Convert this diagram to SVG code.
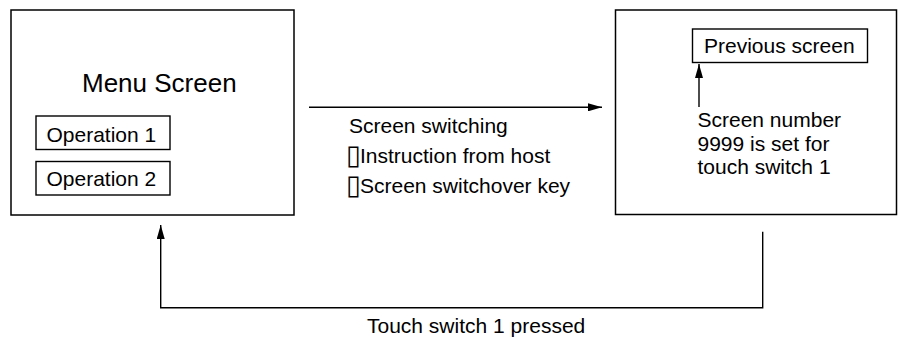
<svg xmlns="http://www.w3.org/2000/svg" width="898" height="337" viewBox="0 0 898 337">
<style>
.frame{fill:#fff;stroke:#000;stroke-width:1.5}
.box{fill:none;stroke:#000;stroke-width:1.4}
.conn{fill:none;stroke:#000;stroke-width:1.4}
text{font-family:"Liberation Sans",Arial,Helvetica,sans-serif;font-size:21px;fill:#000}
.big{font-size:26px}
.tofu{font-family:"DejaVu Sans",sans-serif;font-size:27px;fill:#000}
</style>
<defs>
<marker id="ah" viewBox="0 0 14 8" refX="14" refY="4" markerWidth="14" markerHeight="8" markerUnits="userSpaceOnUse" orient="auto">
<path d="M0,0 L14,4 L0,8 Z" fill="#000"/>
</marker>
</defs>
<rect width="898" height="337" fill="#fff"/>
<g id="menu-screen">
<rect class="frame" x="11" y="10" width="283" height="205"/>
<text class="big" x="82" y="92">Menu Screen</text>
</g>
<g id="operation-1">
<rect class="box" x="36" y="116" width="134" height="33.5"/>
<text x="46.5" y="141.5">Operation 1</text>
</g>
<g id="operation-2">
<rect class="box" x="36" y="161.5" width="134" height="33.5"/>
<text x="46.5" y="185.5">Operation 2</text>
</g>
<g id="target-screen">
<rect class="frame" x="615.5" y="10" width="281" height="204.5"/>
</g>
<g id="previous-screen">
<rect class="box" x="692.5" y="29" width="175" height="33.5"/>
<text x="704" y="52.5">Previous screen</text>
</g>
<g id="note">
<text x="697.5" y="126.5">Screen number</text>
<text x="697.5" y="150.5">9999 is set for</text>
<text x="697.5" y="173.5">touch switch 1</text>
</g>
<g id="switch-label">
<text x="349" y="133">Screen switching</text>
<text x="346" y="164"><tspan class="tofu">▯</tspan><tspan x="360" y="163">Instruction from host</tspan></text>
<text x="346" y="193.5"><tspan class="tofu">▯</tspan><tspan x="360" y="192.5">Screen switchover key</tspan></text>
</g>
<g id="return-label">
<text x="367" y="333">Touch switch 1 pressed</text>
</g>
<g id="connectors">
<line class="conn" x1="309" y1="107.3" x2="602" y2="107.3" marker-end="url(#ah)"/>
<line class="conn" x1="699" y1="107" x2="699" y2="64" marker-end="url(#ah)"/>
<polyline class="conn" points="762.7,231.7 762.7,307.7 160.7,307.7 160.7,225" marker-end="url(#ah)"/>
</g>
</svg>
